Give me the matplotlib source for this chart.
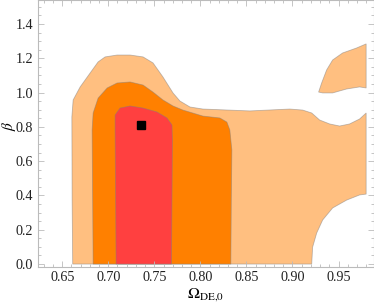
import matplotlib
matplotlib.use("Agg")
import matplotlib.pyplot as plt
from matplotlib.ticker import MultipleLocator

# contour boundaries (Omega_DE0, beta)
red_x = [0.7085, 0.708, 0.7074, 0.7074, 0.7128, 0.7237, 0.7378, 0.7529, 0.7638, 0.7692, 0.7697, 0.7692, 0.7686]
red_y = [0.0, 0.373, 0.782, 0.869, 0.910, 0.922, 0.910, 0.887, 0.852, 0.811, 0.723, 0.373, 0.0]

orange_x = [0.6836, 0.6825, 0.6836, 0.6890, 0.6988, 0.7096, 0.7237, 0.7378, 0.7486, 0.7594, 0.7703,
            0.7811, 0.8028, 0.8212, 0.8288, 0.8320, 0.8342, 0.8336, 0.8331]
orange_y = [0.0, 0.782, 0.881, 0.968, 1.027, 1.056, 1.062, 1.044, 1.003, 0.957, 0.922,
            0.898, 0.863, 0.852, 0.828, 0.782, 0.665, 0.373, 0.0]

light_x = [0.6614, 0.6608, 0.6605, 0.6619, 0.6695, 0.6803, 0.6890, 0.6966, 0.7096, 0.7237, 0.7378,
           0.7486, 0.7594, 0.7703, 0.7778, 0.7887, 0.8028, 0.8537, 0.8970, 0.9111, 0.9209, 0.9295,
           0.9404, 0.9512, 0.9620, 0.9729, 0.980, 0.980, 0.9729, 0.9588, 0.9436, 0.9328, 0.9263,
           0.9219, 0.9209]
light_y = [0.0, 0.373, 0.858, 0.957, 1.033, 1.114, 1.179, 1.208, 1.219, 1.219, 1.208,
           1.173, 1.091, 0.998, 0.951, 0.916, 0.904, 0.893, 0.904, 0.898, 0.881, 0.840,
           0.817, 0.805, 0.817, 0.846, 0.881, 0.408, 0.403, 0.373, 0.327, 0.257, 0.181,
           0.099, 0.0]

lobe_x = [0.9284, 0.9317, 0.9371, 0.9436, 0.9544, 0.9696, 0.980, 0.980, 0.9729, 0.9588, 0.9436, 0.9328]
lobe_y = [1.003, 1.056, 1.132, 1.190, 1.231, 1.260, 1.284, 1.027, 1.033, 1.021, 0.998, 0.998]

best_x = [0.7356]
best_y = [0.81]

plt.rcParams["font.family"] = ["Liberation Serif", "DejaVu Serif"]
plt.rcParams["mathtext.fontset"] = "stix"

fig = plt.figure(figsize=(3.74, 3.04), dpi=100)
ax = fig.add_axes([0.1003, 0.1207, 0.8984, 0.8793])

edge = (0.5, 0.5, 0.5, 0.5)
ax.fill(light_x, light_y, color="#ffbf80", ec=edge, lw=0.6)
ax.fill(lobe_x, lobe_y, color="#ffbf80", ec=edge, lw=0.6)
ax.fill(orange_x, orange_y, color="#ff8000", ec=edge, lw=0.6)
ax.fill(red_x, red_y, color="#ff4040", ec=edge, lw=0.6)
ax.plot(best_x, best_y, "s", color="black", ms=6)

ax.set_xlim(0.6232, 0.988)
ax.set_ylim(-0.019, 1.54)
ax.xaxis.set_major_locator(MultipleLocator(0.05))
ax.xaxis.set_minor_locator(MultipleLocator(0.01))
ax.yaxis.set_major_locator(MultipleLocator(0.2))
ax.yaxis.set_minor_locator(MultipleLocator(0.05))
ax.xaxis.set_major_formatter(plt.FuncFormatter(lambda v, p: f"{v:.2f}"))
ax.yaxis.set_major_formatter(plt.FuncFormatter(lambda v, p: f"{v:.1f}"))

for s in ax.spines.values():
    s.set_color("#bbbbbb")
    s.set_linewidth(0.8)
ax.tick_params(which="both", direction="in", top=True, right=True, color="#bbbbbb",
               labelsize=10.2, width=0.6, labelcolor="#222222")
ax.tick_params(which="major", length=4, pad=3)
ax.tick_params(which="minor", length=2)

ax.set_xlabel(r"$\Omega_{\mathrm{DE{,}0}}$", fontsize=11.5)
ax.set_ylabel(r"$\beta$", fontsize=11)
ax.xaxis.set_label_coords(0.5, -0.07)
ax.yaxis.set_label_coords(-0.058, 0.53)

fig.savefig("out.png", dpi=100)
